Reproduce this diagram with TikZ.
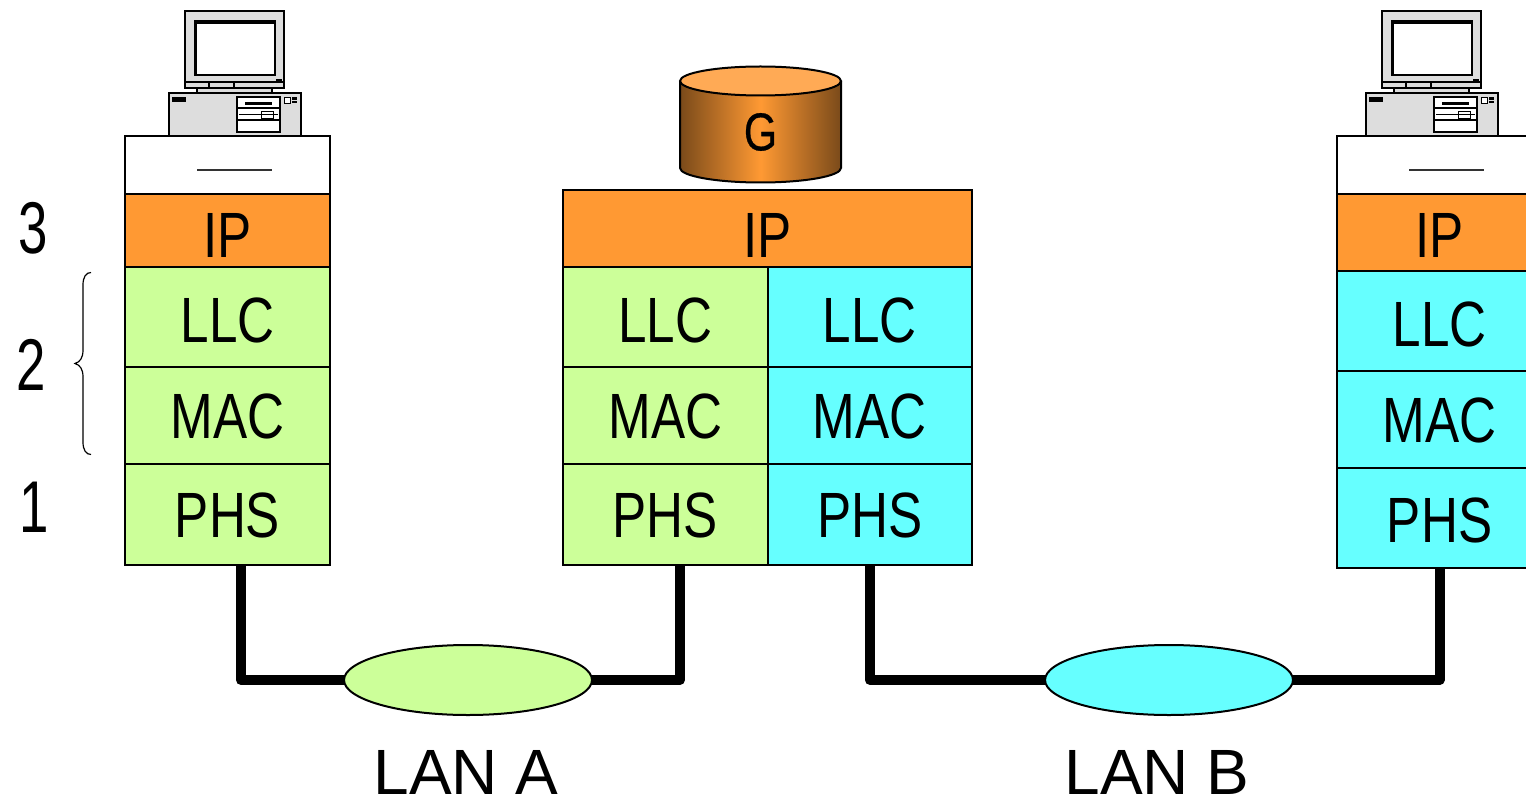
\documentclass[tikz,border=0pt]{standalone}
\usepackage{fontspec}
\setmainfont{Liberation Sans}
\newfontfamily\layerfont[FakeStretch=0.80]{Liberation Sans}
\newfontfamily\digitfont[FakeStretch=0.72]{Liberation Sans}
\newfontfamily\gfont[FakeStretch=0.80,FakeBold=0.6]{Liberation Sans}
\usetikzlibrary{shapes.geometric}
\definecolor{lgreen}{HTML}{CCFF99}
\definecolor{lcyan}{HTML}{66FFFF}
\definecolor{lorange}{HTML}{FF9933}
\definecolor{ltop}{HTML}{FFAA55}
\definecolor{lbrown}{HTML}{7A4A1A}
\definecolor{lgrey}{HTML}{DDDDDD}
% baseline of the text lies #1 below the centre of its box
\newcommand\basedown[2]{\raisebox{-#1}[25pt][25pt]{#2}}
\tikzset{
  cell/.style={draw=black,line width=1.5pt,rectangle,inner sep=0pt,outer sep=0pt,
    font={\fontsize{48}{50}\layerfont},text=black},
  wide/.style={minimum width=153.75pt},
  half/.style={minimum width=153.4pt},
  hIP/.style={minimum height=57.75pt},
  hTop/.style={minimum height=43.5pt},
  hLLC/.style={minimum height=75pt},
  hMAC/.style={minimum height=72.75pt},
  hPHS/.style={minimum height=75.5pt},
  link/.style={line width=7.5pt,line join=round,line cap=butt},
  lan/.style={draw=black,line width=1.5pt,ellipse,inner sep=0pt,outer sep=0pt,
    minimum width=186pt,minimum height=52.5pt},
  big/.style={font={\fontsize{48}{50}\selectfont},inner sep=0pt},
  digit/.style={font={\fontsize{55}{58}\digitfont},inner sep=0pt},
  rule/.style={draw=black!80,line width=1.5pt},
  pcline/.style={draw=black,line width=1.2pt},
  computer/.pic={
    \draw[pcline,fill=lgrey] (185,11) rectangle (284,88);
    \draw[pcline,fill=white] (195,21) rectangle (275,75);
    \fill[black] (194,20) rectangle (275.5,24.5);
    \fill[black] (194,20) rectangle (196.5,76);
    \draw[pcline,line width=0.8pt] (185,82) -- (284,82);
    \draw[pcline,line width=0.8pt] (209,82) -- (209,88) (234,82) -- (234,88);
    \fill[black] (276,79) rectangle (282,81);
    \draw[pcline,fill=lgrey] (197,88) rectangle (272,93);
    \draw[pcline,fill=lgrey] (169,93) rectangle (301,136);
    \fill[black] (172,97) rectangle (186,102);
    \draw[pcline,line width=0.8pt,fill=white] (237,97) rectangle (280,132);
    \draw[pcline,line width=0.8pt] (237,108) -- (280,108) (237,120) -- (280,120);
    \fill[black] (245,102) rectangle (272,105);
    \draw[pcline,line width=0.6pt] (239,114) -- (278,114);
    \draw[pcline,line width=0.6pt] (261,111) rectangle (273,118);
    \draw[pcline,line width=0.6pt,fill=white] (284,97) rectangle (290,103);
    \fill[black] (292,97) rectangle (297,100);
    \fill[black] (292,101) rectangle (297,103.5);
  }
}
\begin{document}
\begin{tikzpicture}[x=0.75pt,y=-0.75pt]
\clip (0,0) rectangle (1526,798);
% computers
\pic at (0,0) {computer};
\pic at (1197,0) {computer};
% left stack
\node[cell,wide,hTop,fill=white] (topL) at (227.5,165) {};
\draw[rule] (197,170.5) -- (272,170.5);
\node[cell,wide,hIP,minimum height=54.75pt,fill=lorange] (ipL) at (227.5,230.5) {\basedown{19.9pt}{IP}};
\node[cell,wide,hLLC,fill=lgreen] (llcL) at (227.5,317) {\basedown{18.75pt}{LLC}};
\node[cell,wide,hMAC,fill=lgreen] (macL) at (227.5,415.5) {\basedown{16.9pt}{MAC}};
\node[cell,wide,hPHS,fill=lgreen] (phsL) at (227.5,514.5) {\basedown{17.6pt}{PHS}};
% middle stack
\node[cell,minimum width=306.75pt,hIP,fill=lorange] (ipM) at (767.5,228.5) {\basedown{21.4pt}{IP}};
\node[cell,half,hLLC,fill=lgreen] (llcA) at (665.3,317) {\basedown{18.75pt}{LLC}};
\node[cell,half,hMAC,fill=lgreen] (macA) at (665.3,415.5) {\basedown{16.9pt}{MAC}};
\node[cell,half,hPHS,fill=lgreen] (phsA) at (665.3,514.5) {\basedown{17.6pt}{PHS}};
\node[cell,half,hLLC,fill=lcyan] (llcB) at (869.8,317) {\basedown{18.75pt}{LLC}};
\node[cell,half,hMAC,fill=lcyan] (macB) at (869.8,415.5) {\basedown{16.9pt}{MAC}};
\node[cell,half,hPHS,fill=lcyan] (phsB) at (869.8,514.5) {\basedown{17.6pt}{PHS}};
% right stack
\node[cell,wide,hTop,fill=white] (topR) at (1439.5,165) {};
\draw[rule] (1409,170.5) -- (1484,170.5);
\node[cell,wide,hIP,fill=lorange] (ipR) at (1439.5,232.5) {\basedown{18.4pt}{IP}};
\node[cell,wide,hLLC,fill=lcyan] (llcR) at (1439.5,321) {\basedown{18.75pt}{LLC}};
\node[cell,wide,hMAC,fill=lcyan] (macR) at (1439.5,419.5) {\basedown{16.9pt}{MAC}};
\node[cell,wide,hPHS,fill=lcyan] (phsR) at (1439.5,518) {\basedown{18pt}{PHS}};
% gateway cylinder
\path[left color=lbrown,right color=lbrown,middle color=lorange]
  (680,81) -- (680,168) .. controls (680,176) and (716,182.5) .. (760.5,182.5)
  .. controls (805,182.5) and (841,176) .. (841,168) -- (841,81) -- cycle;
\draw[black,line width=1.5pt]
  (680,81) -- (680,168) .. controls (680,176) and (716,182.5) .. (760.5,182.5)
  .. controls (805,182.5) and (841,176) .. (841,168) -- (841,81);
\draw[black,line width=1.5pt,fill=ltop] (760.5,81) ellipse [x radius=80.5,y radius=14.5];
\node[inner sep=0pt,font={\fontsize{40}{42}\gfont}] (G) at (760.5,132) {G};
% LANs
\node[lan,fill=lgreen] (lanA) at (468,680) {};
\node[lan,fill=lcyan] (lanB) at (1169,680) {};
% links
\draw[link] ([xshift=10.1pt]phsL.south) |- (lanA.west);
\draw[link] ([xshift=11.0pt]phsA.south) |- (lanA.east);
\draw[link] (phsB.south) |- (lanB.west);
\draw[link] (phsR.south) |- (lanB.east);
% labels
\node[big] (labA) at (466,772) {LAN A};
\node[big] (labB) at (1157,772) {LAN B};
\node[digit] (n3) at (33,228) {3};
\node[digit] (n2) at (31,365) {2};
\node[digit] (n1) at (34,507) {1};
% brace
\draw[black,line width=0.9pt] (91,272.5) .. controls (86,272.5) and (83,277) .. (83,285)
  -- (83,350) .. controls (83,358) and (80,362) .. (75,363.5)
  .. controls (80,365) and (83,369) .. (83,377)
  -- (83,442) .. controls (83,450) and (86,454.5) .. (91,454.5);
\end{tikzpicture}
\end{document}
